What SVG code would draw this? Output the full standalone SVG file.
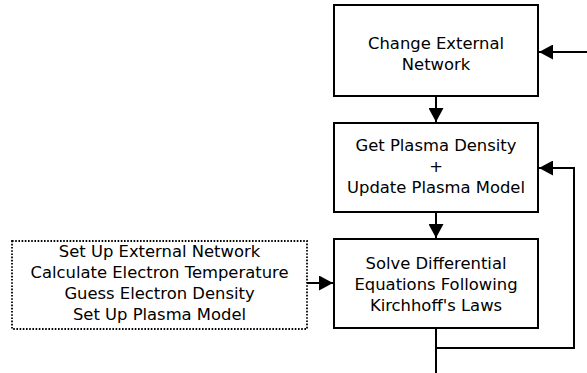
<svg xmlns="http://www.w3.org/2000/svg" width="587" height="373" viewBox="0 0 587 373">
  <style>
    .box { fill: #ffffff; stroke: #000000; stroke-width: 2; }
    .dotted { fill: #ffffff; stroke: #000000; stroke-width: 1.8; stroke-dasharray: 1.6 1.6; }
    .label { font-family: "DejaVu Sans", sans-serif; font-size: 16.4px; fill: #000000; text-anchor: middle; }
    .wire { fill: none; stroke: #000000; stroke-width: 2; }
  </style>
  <defs>
    <marker id="arrow" viewBox="0 0 14 15" refX="14" refY="7.5" markerWidth="14" markerHeight="15" markerUnits="userSpaceOnUse" orient="auto">
      <path d="M0,0 L14,7.5 L0,15 Z" fill="#000000"/>
    </marker>
  </defs>
  <rect width="587" height="373" fill="#ffffff"/>

  <g id="setup">
    <rect class="dotted" x="12" y="241" width="295" height="88"/>
    <text class="label" x="159.5" y="257">Set Up External Network</text>
    <text class="label" x="159.5" y="278">Calculate Electron Temperature</text>
    <text class="label" x="159.5" y="299">Guess Electron Density</text>
    <text class="label" x="159.5" y="320">Set Up Plasma Model</text>
  </g>

  <g id="change-network">
    <rect class="box" x="334" y="5" width="204" height="91"/>
    <text class="label" x="436" y="49">Change External</text>
    <text class="label" x="436" y="70">Network</text>
  </g>

  <g id="plasma-density">
    <rect class="box" x="334" y="123" width="204" height="89"/>
    <text class="label" x="436" y="151">Get Plasma Density</text>
    <text class="label" x="436" y="172">+</text>
    <text class="label" x="436" y="193">Update Plasma Model</text>
  </g>

  <g id="solve">
    <rect class="box" x="334" y="239" width="204" height="89"/>
    <text class="label" x="436" y="269">Solve Differential</text>
    <text class="label" x="436" y="290">Equations Following</text>
    <text class="label" x="436" y="311">Kirchhoff's Laws</text>
  </g>

  <g id="connectors">
    <path class="wire" d="M587,52 H539" marker-end="url(#arrow)"/>
    <path class="wire" d="M436,96 V122" marker-end="url(#arrow)"/>
    <path class="wire" d="M436,212 V238" marker-end="url(#arrow)"/>
    <path class="wire" d="M307,283 H333" marker-end="url(#arrow)"/>
    <path class="wire" d="M436,328 V373"/>
    <path class="wire" d="M436,348 H574 V168 H539" marker-end="url(#arrow)"/>
  </g>
</svg>
